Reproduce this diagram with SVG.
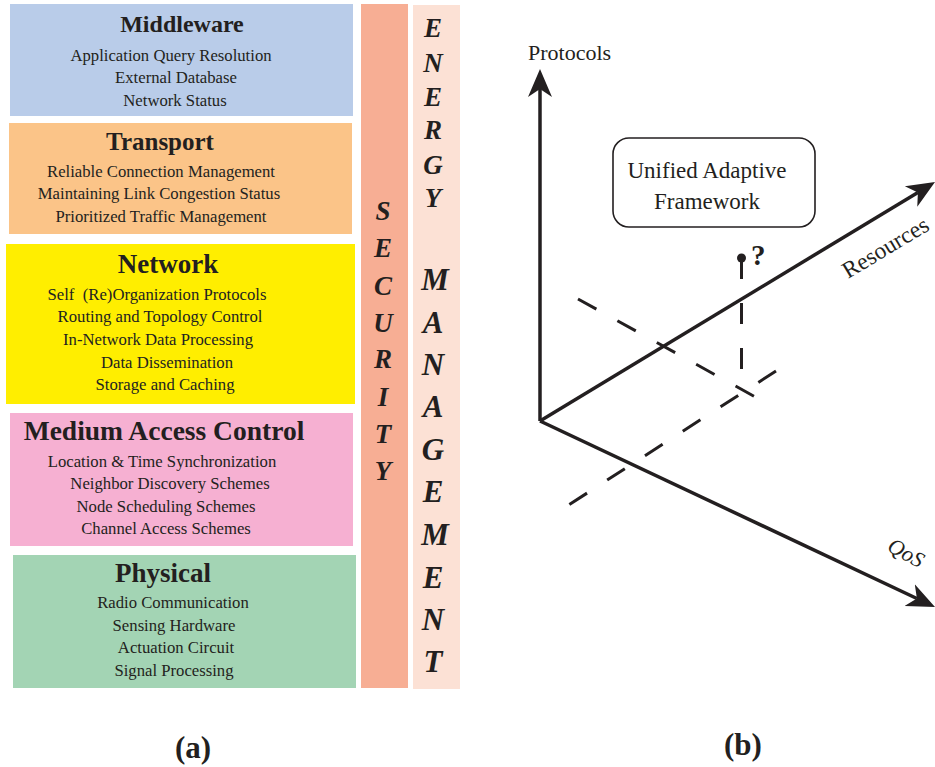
<svg xmlns="http://www.w3.org/2000/svg" width="935" height="767" viewBox="0 0 935 767">
  <style>
    text { font-family: "Liberation Serif", "Times New Roman", serif; fill: #231f20; }
    .title { font-size: 26px; font-weight: bold; text-anchor: middle; }
    .item { font-size: 16.7px; text-anchor: middle; }
    .vert { font-size: 27px; font-weight: bold; font-style: italic; text-anchor: middle; }
    .big { font-size: 31px; }
    .cap { font-size: 31px; font-weight: bold; text-anchor: middle; }
    .lbl { font-size: 22px; }
    .axis { stroke: #231f20; stroke-width: 3.5; fill: none; }
    .dash { stroke: #231f20; stroke-width: 3; fill: none; stroke-dasharray: 21 24; }
  </style>
  <defs>
    <marker id="arrow" markerUnits="userSpaceOnUse" markerWidth="30" markerHeight="26" refX="8" refY="13" orient="auto" viewBox="0 0 30 26">
      <path d="M28,13 L0,1 L8,13 L0,25 Z" fill="#231f20"/>
    </marker>
  </defs>
  <rect width="935" height="767" fill="#ffffff"/>

  <!-- (a) protocol stack -->
  <g id="middleware">
    <rect x="10" y="4" width="343" height="112" fill="#b9cce9"/>
    <text class="title" x="182" y="32" style="font-size:24px">Middleware</text>
    <text class="item" x="171" y="61">Application Query Resolution</text>
    <text class="item" x="176" y="83">External Database</text>
    <text class="item" x="175" y="106">Network Status</text>
  </g>
  <g id="transport">
    <rect x="9" y="123" width="343" height="111" fill="#fbc488"/>
    <text class="title" x="160" y="150" style="font-size:25px">Transport</text>
    <text class="item" x="161" y="177">Reliable Connection Management</text>
    <text class="item" x="159" y="199">Maintaining Link Congestion Status</text>
    <text class="item" x="161" y="222">Prioritized Traffic Management</text>
  </g>
  <g id="network">
    <rect x="6" y="244" width="349" height="160" fill="#ffee00"/>
    <text class="title" x="168" y="273" style="font-size:27px">Network</text>
    <text class="item" x="157" y="300" xml:space="preserve">Self  (Re)Organization Protocols</text>
    <text class="item" x="160" y="322">Routing and Topology Control</text>
    <text class="item" x="158" y="345">In-Network Data Processing</text>
    <text class="item" x="167" y="368">Data Dissemination</text>
    <text class="item" x="165" y="390">Storage and Caching</text>
  </g>
  <g id="mac">
    <rect x="10" y="413" width="343" height="133" fill="#f6b0d2"/>
    <text class="title" x="164" y="440" style="font-size:27.5px">Medium Access Control</text>
    <text class="item" x="162" y="467">Location &amp; Time Synchronization</text>
    <text class="item" x="170" y="489">Neighbor Discovery Schemes</text>
    <text class="item" x="166" y="512">Node Scheduling Schemes</text>
    <text class="item" x="166" y="534">Channel Access Schemes</text>
  </g>
  <g id="physical">
    <rect x="13" y="555" width="343" height="133" fill="#a3d4b4"/>
    <text class="title" x="163" y="582" style="font-size:27px">Physical</text>
    <text class="item" x="173" y="608">Radio Communication</text>
    <text class="item" x="174" y="631">Sensing Hardware</text>
    <text class="item" x="176" y="653">Actuation Circuit</text>
    <text class="item" x="174" y="676">Signal Processing</text>
  </g>
  <g id="security">
    <rect x="361" y="4" width="47" height="684" fill="#f7ae94"/>
    <text class="vert" x="383" y="220">S</text>
    <text class="vert" x="383" y="257">E</text>
    <text class="vert" x="383" y="295">C</text>
    <text class="vert" x="383" y="332">U</text>
    <text class="vert" x="383" y="368">R</text>
    <text class="vert" x="383" y="406">I</text>
    <text class="vert" x="383" y="443">T</text>
    <text class="vert" x="383" y="480">Y</text>
  </g>
  <g id="energy-management">
    <rect x="413" y="5" width="47" height="684" fill="#fce1d5"/>
    <text class="vert" x="433" y="37">E</text>
    <text class="vert" x="433" y="72">N</text>
    <text class="vert" x="433" y="106">E</text>
    <text class="vert" x="433" y="139">R</text>
    <text class="vert" x="433" y="174">G</text>
    <text class="vert" x="433" y="207">Y</text>
    <text class="vert big" x="435" y="290">M</text>
    <text class="vert big" x="433" y="333">A</text>
    <text class="vert big" x="433" y="375">N</text>
    <text class="vert big" x="433" y="417">A</text>
    <text class="vert big" x="433" y="460">G</text>
    <text class="vert big" x="433" y="502">E</text>
    <text class="vert big" x="435" y="545">M</text>
    <text class="vert big" x="433" y="588">E</text>
    <text class="vert big" x="433" y="630">N</text>
    <text class="vert big" x="433" y="672">T</text>
  </g>
  <text class="cap" x="193" y="758">(a)</text>

  <!-- (b) design space axes -->
  <g id="connectors">
    <line class="axis" x1="540" y1="421" x2="540" y2="89" marker-end="url(#arrow)"/>
    <line class="axis" x1="540" y1="421" x2="917.9" y2="192.4" marker-end="url(#arrow)"/>
    <line class="axis" x1="540" y1="421" x2="916.9" y2="598.5" marker-end="url(#arrow)"/>
    <line class="dash" x1="578" y1="299" x2="759" y2="399"/>
    <line class="dash" x1="776" y1="371" x2="564" y2="508"/>
    <line class="dash" x1="741.5" y1="258" x2="741.5" y2="390"/>
    <circle cx="741.5" cy="258" r="4.5" fill="#231f20"/>
  </g>
  <g id="framework">
    <rect x="613" y="138" width="202" height="89" rx="16" ry="16" fill="#ffffff" stroke="#231f20" stroke-width="1.6"/>
    <text x="707" y="178" text-anchor="middle" style="font-size:23px">Unified Adaptive</text>
    <text x="707" y="209" text-anchor="middle" style="font-size:23px">Framework</text>
  </g>
  <text x="751" y="265" font-size="29" font-weight="bold">?</text>
  <text class="lbl" x="528" y="60">Protocols</text>
  <text class="lbl" transform="translate(848,279) rotate(-31)" style="font-size:23.5px">Resources</text>
  <text class="lbl" transform="translate(886,550) rotate(29)" style="font-style:italic">QoS</text>
  <text class="cap" x="743" y="755">(b)</text>
</svg>
